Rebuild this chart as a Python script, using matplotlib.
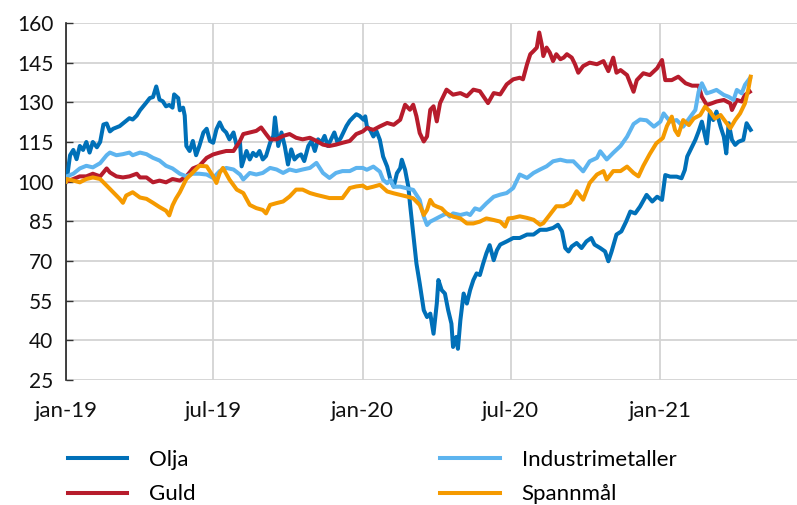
import matplotlib
matplotlib.use("Agg")
import matplotlib.pyplot as plt
import matplotlib.dates as mdates
import pandas as pd

plt.rcParams['font.family'] = ['Lato', 'DejaVu Sans']

START = pd.Timestamp('2019-01-01')

# ---- data (day offsets from 2019-01-01, index values) ----
olja_days = [0, 1, 5, 9, 13, 17, 21, 25, 29, 33, 38, 42, 46, 50, 54, 58, 66, 74, 78, 82, 87, 91, 95, 99, 103, 107,
             111, 115, 119, 123, 127, 131, 133, 138, 140, 144, 146, 148, 152, 156, 160, 164,
             169, 173, 177, 181, 185, 189, 193, 197, 201, 206, 210, 214, 216, 222, 226, 230, 234, 238, 242, 246,
             251, 255, 257, 261, 265, 269, 273, 277, 281, 285, 289, 293, 298, 302, 306, 310, 314, 318, 322, 326,
             330, 334, 338, 345, 349, 353, 357, 361,
             366, 368, 370, 374, 378, 382, 386, 390, 395, 399, 403, 407, 411, 413, 417, 421, 423, 427, 431, 435,
             440, 444, 448, 452, 456, 458, 462, 466, 470, 474, 476, 480, 482, 485, 489, 493, 497, 501, 505, 509,
             513, 517, 521, 526, 530,
             534, 542, 550, 558, 567, 575, 583, 591, 599, 605, 610, 614, 618, 622, 628, 634, 640, 646, 650, 657,
             663, 667, 671, 677,
             683, 689, 694, 700, 706, 714, 721, 727, 733, 737, 743, 751, 757, 761, 764, 768, 774, 778, 782, 788,
             792, 796, 800, 805, 809, 812, 815, 819, 823, 827, 833, 837, 842]
olja_vals = [100, 101, 110, 112, 108.5, 113.5, 112, 115, 111, 115, 113, 115, 121.6, 122, 119, 120, 121, 123, 124, 123.5,
             125, 127, 128.5, 130, 131.6, 132, 136, 131, 130.4, 128.5, 129, 128, 133, 131.6, 127, 128, 125, 113.5,
             111.6, 115.4, 110, 113.5,
             118.6, 120, 115.4, 114.7, 119.8, 122.4, 119.8, 118.6, 116, 118.6, 113.5, 114.7, 105.8, 111.6, 108.4,
             110.9, 109.7, 111.6, 108.4, 109.7, 114.7, 117.3, 124.3, 113.5, 118.6, 113.5, 106.5, 112.2, 108.4,
             109.7, 110.3, 107.8, 113.5, 115.4, 111.6, 116, 114.7, 117.3, 113.5, 116, 118.6, 114.7, 116.6, 121.1,
             123, 124.3, 125.5, 124.9,
             123.4, 124.7, 120.9, 119.6, 117.1, 119, 115.8, 109.5, 105.7, 100.7, 98.1, 103.2, 105.1, 108.3, 104.5,
             98.1, 91.8, 80.4, 69, 61.5, 51.4, 48.8, 50.1, 42.5, 53.9, 62.8, 59, 57.7, 51.4, 46.3, 37.5, 41.3, 36.8,
             47.6, 57.7, 53.9, 59, 62.8, 65.3, 64.7, 69, 72.9, 76, 70.3, 74.1,
             76.2, 77.4, 78.7, 78.7, 80, 80, 81.8, 81.8, 82.5, 83.7, 81.2, 74.9, 73.6, 75.5, 76.8, 74.9, 77.4, 78.7,
             76.2, 74.9, 73.6, 69.9, 73.6, 80,
             81.2, 85, 88.7, 88, 90.6, 95, 92.5, 94.3, 93.1, 102.5, 101.9, 101.9, 101.3, 104.4, 109.5, 112, 115.8,
             119, 122.7, 114.5, 126.5, 123.3, 126.5, 120.8, 117, 110.7, 122.1, 115.8, 113.9, 115.1, 115.8, 122.1,
             119.6]

guld_days = [0, 9, 17, 25, 33, 42, 50, 54, 62, 70, 78, 87, 91, 99, 107, 115, 123, 131, 140, 148, 156, 164,
             173, 181, 189, 197, 206, 214, 218, 226, 234, 240, 246, 251, 259, 267, 275, 283, 291, 300, 308, 316,
             324, 332, 340, 349, 357,
             365, 370, 378, 386, 395, 403, 411, 417, 423, 427, 431, 435, 440, 444, 448, 452, 456, 460, 468, 476,
             485, 493, 501, 509, 519, 526,
             534, 542, 550, 558, 562, 567, 571, 575, 579, 582, 585, 587, 591, 595, 599, 603, 608, 612, 616, 622,
             626, 630, 636, 644, 653, 661, 667, 673, 677,
             682, 690, 698, 702, 710, 718, 727, 733, 737, 745, 753, 762, 770, 778, 782, 788, 794, 800, 809, 817,
             819, 825, 831, 835, 841]
guld_vals = [100, 101, 102, 102, 103, 102, 105, 103.5, 102, 101.6, 102, 103, 101.6, 101.6, 99.75, 100.4, 99.75, 101,
             100.4, 102, 105, 106,
             109, 110.3, 111, 111.6, 111.6, 115.4, 118, 118.6, 119.2, 120.5, 118, 116, 116, 117.3, 118, 116.6, 116,
             116.6, 115.4, 114, 113.5, 114, 114.7, 115.4, 118,
             119, 120.3, 119.6, 120.9, 122.2, 121.5, 123.4, 129.1, 127.2, 129.1, 124.7, 118.4, 115.2, 117.1, 127.2,
             128.5, 122.8, 129.7, 134.8, 132.9, 133.5, 132.3, 134.8, 134.2, 129.7, 133.5,
             133, 136.8, 138.7, 139.3, 138.7, 144.4, 148.2, 149.4, 150.7, 156.4, 152, 147.5, 150.7, 148.8, 145.6,
             148.2, 146.3, 146.9, 148.2, 146.9, 144.4, 141.2, 143.7, 145, 144.4, 145.6, 141.8, 146.9, 141.2,
             142.2, 140.3, 134, 138.4, 141, 140.3, 142.9, 146, 138.4, 138.4, 139.7, 137.2, 136.3, 136.3, 132.1, 129,
             129.6, 130.3, 130.9, 129.6, 127.1, 130.9, 130.3, 132.8, 134]

ind_days = [0, 1, 9, 17, 25, 33, 42, 50, 54, 62, 70, 78, 82, 91, 99, 107, 115, 123, 131, 140, 148, 156, 164,
            173, 181, 189, 197, 206, 214, 218, 226, 234, 242, 251, 259, 267, 275, 283, 291, 300, 308, 316, 324,
            332, 340, 349, 357,
            365, 370, 378, 386, 390, 395, 399, 403, 411, 419, 427, 435, 440, 444, 448, 452, 460, 468, 472, 476,
            485, 493, 497, 503, 509, 517, 526,
            534, 542, 550, 558, 567, 575, 583, 591, 599, 608, 616, 624, 632, 636, 644, 653, 657, 665, 673,
            682, 690, 698, 706, 714, 723, 731, 735, 743, 751, 759, 768, 774, 778, 782, 788, 794, 800, 809, 815,
            821, 825, 831, 835, 841]
ind_vals = [100, 102, 103, 105, 106, 105.4, 107, 110, 111, 110, 110.4, 111, 110, 111, 110.4, 109, 108, 106, 105,
            103, 102, 103, 103,
            102.7, 101.4, 104, 105.2, 104.6, 102.7, 100.8, 103.3, 102.7, 103.3, 105.2, 104.6, 103.3, 104.6, 104,
            104.6, 105.2, 107.1, 103.3, 101.4, 103.3, 104, 104, 105.2,
            105.2, 104.5, 105.7, 103.8, 100.7, 99.4, 100.7, 98.1, 98.1, 97.5, 96.9, 93.1, 86.8, 83.6, 84.9, 85.5,
            86.8, 88, 86.8, 88, 87.4, 88, 87.4, 89.9, 89.3, 91.8, 94.3,
            95.1, 95.7, 97.6, 102.7, 101.4, 103.3, 104.6, 105.8, 107.7, 108.3, 107.7, 107.7, 105.2, 103.9, 107.7,
            109, 111.5, 108.4, 110.9,
            113.5, 117, 121.8, 123.5, 123.2, 120.8, 122.7, 125.8, 122.7, 123.3, 120.8, 124.6, 127.1, 134, 137.2,
            133.4, 134, 134.7, 132.8, 132.1, 130.9, 134.7, 133.4, 136.6, 139.1]

spm_days = [0, 1, 9, 17, 25, 33, 42, 50, 58, 66, 70, 74, 82, 91, 99, 107, 115, 123, 127, 131, 135, 140, 144, 148,
            156, 164,
            173, 181, 185, 189, 193, 201, 210, 218, 226, 234, 242, 246, 251, 259, 267, 275, 283, 291, 300, 308,
            316, 324, 332, 340, 349, 357,
            365, 370, 378, 386, 395, 403, 411, 419, 427, 435, 440, 444, 448, 452, 456, 462, 468, 476, 485, 493,
            501, 509, 517, 526, 534, 540, 544,
            550, 558, 567, 575, 583, 587, 595, 603, 612, 620, 628, 636, 644, 653, 661, 665, 673,
            682, 690, 698, 704, 710, 718, 726, 734, 739, 745, 749, 753, 759, 766, 772, 780, 786, 792, 798, 805,
            811, 817, 823, 829, 835, 839, 842]
spm_vals = [100, 101, 100.4, 99.75, 101, 101.6, 101, 98.5, 96, 93.5, 92, 94.75, 96, 94, 93.5, 92, 90.4, 89, 87.25,
            91, 93.5, 96, 98.5, 101, 103.5, 106,
            105.8, 102, 99.5, 103.3, 105.2, 100.8, 97, 95.7, 91.2, 90, 89.3, 88, 91.2, 91.9, 92.5, 94.4, 97, 97,
            95.7, 95, 94.4, 93.8, 93.8, 93.8, 97.6, 98.2,
            98.5, 97.5, 98.1, 98.8, 96.3, 95.6, 95, 94.4, 93.7, 91.2, 87.4, 89.3, 93.1, 91.2, 90.6, 89.9, 88, 86.8,
            86.1, 84.2, 84.2, 84.9, 86.1, 85.5, 84.9, 83, 86.1,
            86.3, 86.9, 86.3, 85.6, 83.7, 84.3, 87.5, 90.7, 90.7, 92, 96.4, 93.2, 99.5, 102.7, 104, 100.8, 104,
            104, 105.7, 103.3, 102, 106, 110.5, 114.5, 116.5, 121, 124.6, 119.5, 117.6, 123.3, 121.4, 123.9,
            125.2, 128.4, 126.5, 123.9, 125.2, 122.7, 120.2, 123.3, 125.8, 129.6, 134.7, 139.7]

series_names = ['Olja', 'Guld', 'Industrimetaller', 'Spannmål']
series_colors = ['#0070B8', '#B71C2C', '#5DB4EF', '#F59A00']

y_ticks = [25, 40, 55, 70, 85, 100, 115, 130, 145, 160]
x_tick_dates = ['2019-01-01', '2019-07-01', '2020-01-01', '2020-07-01', '2021-01-01']
x_tick_labels = ['jan-19', 'jul-19', 'jan-20', 'jul-20', 'jan-21']


def to_dates(days):
    return START + pd.to_timedelta(days, unit='D')


fig = plt.figure(figsize=(7.97, 5.05), dpi=100)
ax = fig.add_axes([66 / 797, 1 - 380 / 505, 1 - 66 / 797, (380 - 23) / 505])

data = [(olja_days, olja_vals), (guld_days, guld_vals), (ind_days, ind_vals), (spm_days, spm_vals)]
for (d, v), name, col in zip(data, series_names, series_colors):
    ax.plot(to_dates(d), v, color=col, lw=2.9, label=name, solid_joinstyle='round', zorder=3)

ax.set_ylim(25, 160)
ax.set_yticks(y_ticks)
ax.set_xlim(START, START + pd.Timedelta(days=899))
ax.set_xticks(pd.to_datetime(x_tick_dates))
ax.set_xticklabels(x_tick_labels)

ax.grid(True, color='#d3d3d3', lw=1.3, zorder=0)
for s in ['top', 'right', 'bottom']:
    ax.spines[s].set_visible(False)
ax.spines['left'].set_color('#222222')
ax.spines['left'].set_linewidth(1.2)
ax.tick_params(axis='y', direction='in', length=5, width=1.0, color='#333333', labelsize=15, pad=9,
               labelcolor='#111111')
ax.tick_params(axis='x', length=0, labelsize=16, pad=15, labelcolor='#111111')

handles, labels = ax.get_legend_handles_labels()
fig.legend(handles, labels, ncol=2, loc='upper left', bbox_to_anchor=(68 / 797, 1 - 450 / 505),
           frameon=False, fontsize=16, handlelength=2.66, handletextpad=1.0, columnspacing=11.0,
           labelspacing=0.65, borderpad=0, borderaxespad=0)

fig.savefig('out.png', dpi=100)
